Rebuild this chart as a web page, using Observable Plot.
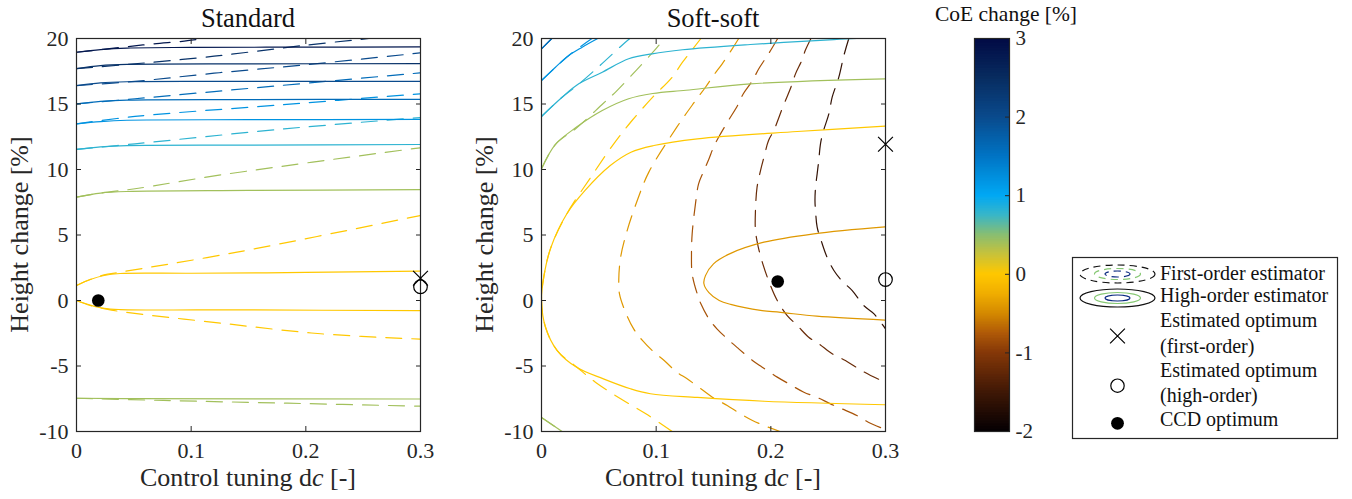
<!DOCTYPE html>
<html><head><meta charset="utf-8">
<script src="https://cdn.jsdelivr.net/npm/d3@7"></script>
<script src="https://cdn.jsdelivr.net/npm/@observablehq/plot@0.6"></script>
<style>
body{margin:0;background:#fff;}
#root{position:relative;width:1352px;height:499px;overflow:hidden;background:#fff;font-family:"Liberation Serif","DejaVu Serif",serif;}
#root > svg{position:absolute;overflow:visible;}
#root svg text{font-family:"Liberation Serif","DejaVu Serif",serif !important;}
</style></head><body><div id="root"></div>
<script>
// ---------- scales / ticks ----------
const cmapStops  = [-2, -1.5, -1, -0.75, -0.5, -0.25, 0, 0.25, 0.5, 0.75, 1, 1.5, 2, 2.5, 3];
const cmapColors = ["#050003","#401806","#853808","#b05a08","#d48a00","#f0ae00","#ffc800","#c8c23a","#88be72","#38b6c8","#00a8f4","#0074c4","#0a4a8c","#082c60","#020a44"];
const xTicks  = [0, 0.1, 0.2, 0.3];
const yTicks  = [-10, -5, 0, 5, 10, 15, 20];
const cbTicks = [-2, -1, 0, 1, 2, 3];
const panelTitles = ["Standard", "Soft-soft"];
const cbTitle = "CoE change [%]";
const legendLabels = ["First-order estimator","High-order estimator","Estimated optimum","(first-order)","Estimated optimum","(high-order)","CCD optimum"];

// ---------- Standard: high-order estimator (solid) ----------
const stdHiLevels = [2.8, 2.4, 2.0, 1.6, 1.2, 0.8, 0.4, 0, 0, 0.4];
const stdHi_2p8 = [[0,18.95],[0.021,19.15],[0.044,19.27],[0.1,19.32],[0.2,19.34],[0.3,19.36]];
const stdHi_2p4 = [[0,17.7],[0.021,17.93],[0.044,18.02],[0.15,18.06],[0.3,18.08]];
const stdHi_2p0 = [[0,16.41],[0.021,16.62],[0.044,16.7],[0.15,16.72],[0.3,16.73]];
const stdHi_1p6 = [[0,15.01],[0.021,15.2],[0.044,15.3],[0.15,15.34],[0.3,15.35]];
const stdHi_1p2 = [[0,13.49],[0.021,13.66],[0.044,13.76],[0.15,13.8],[0.3,13.82]];
const stdHi_0p8 = [[0,11.53],[0.021,11.72],[0.044,11.82],[0.15,11.86],[0.3,11.91]];
const stdHi_0p4a = [[0,7.89],[0.021,8.2],[0.044,8.32],[0.15,8.4],[0.3,8.47]];
const stdHi_0a = [[0,1.15],[0.012,1.6],[0.024,1.91],[0.038,2.06],[0.1,2.08],[0.2,2.14],[0.3,2.24]];
const stdHi_0b = [[0,0],[0.012,-0.35],[0.024,-0.6],[0.038,-0.69],[0.15,-0.72],[0.3,-0.78]];
const stdHi_0p4b = [[0,-7.46],[0.05,-7.49],[0.3,-7.52]];
const stdHiLines = [stdHi_2p8, stdHi_2p4, stdHi_2p0, stdHi_1p6, stdHi_1p2, stdHi_0p8, stdHi_0p4a, stdHi_0a, stdHi_0b, stdHi_0p4b];

// ---------- Standard: first-order estimator (dashed) ----------
const stdLoLevels = [2.8, 2.4, 2.0, 1.6, 1.2, 0.8, 0.4, 0, 0, 0.4];
const stdLo_2p8 = [[0,18.95],[0.041,19.34],[0.067,19.59],[0.094,19.8],[0.112,20]];
const stdLo_2p4 = [[0,17.7],[0.041,17.99],[0.12,18.65],[0.198,19.47],[0.255,20]];
const stdLo_2p0 = [[0,16.41],[0.051,16.73],[0.12,17.35],[0.198,17.98],[0.3,18.9]];
const stdLo_1p6 = [[0,15.01],[0.051,15.4],[0.12,15.95],[0.3,17.38]];
const stdLo_1p2 = [[0,13.49],[0.051,14.05],[0.18,14.95],[0.3,15.78]];
const stdLo_0p8 = [[0,11.53],[0.051,11.96],[0.181,13.1],[0.3,13.97]];
const stdLo_0p4a = [[0,7.89],[0.021,8.2],[0.051,8.53],[0.1285,9.62],[0.3,11.66]];
const stdLo_0a = [[0,1.15],[0.012,1.6],[0.024,1.95],[0.038,2.16],[0.14,3.69],[0.3,6.49]];
const stdLo_0b = [[0,0],[0.012,-0.38],[0.024,-0.62],[0.038,-0.84],[0.126,-1.73],[0.213,-2.54],[0.3,-2.95]];
const stdLo_0p4b = [[0,-7.46],[0.076,-7.63],[0.184,-7.84],[0.3,-8.07]];
const stdLoLines = [stdLo_2p8, stdLo_2p4, stdLo_2p0, stdLo_1p6, stdLo_1p2, stdLo_0p8, stdLo_0p4a, stdLo_0a, stdLo_0b, stdLo_0p4b];

// ---------- Standard: optima ----------
const stdEstFirst = [[0.3, 1.7]];
const stdEstHigh  = [[0.3, 1.05]];
const stdCCD      = [[0.019, 0.0]];

// ---------- Soft-soft: high-order estimator (solid) ----------
const softHiLevels = [1.6, 1.2, 0.8, 0.4, 0, -0.4, 0.4];
const softHi_1p6 = [[0,19.21],[0.009,20]];
const softHi_1p2 = [[0,16.79],[0.0122,17.81],[0.0238,18.7],[0.0355,19.34],[0.049,20]];
const softHi_0p8 = [[0,14.05],[0.018,15.52],[0.0325,16.54],[0.053,17.43],[0.076,18.45],[0.0965,18.83],[0.123,19.14],[0.182,19.54],[0.255,19.92],[0.275,20]];
const softHi_0p4 = [[0,10.05],[0.012,11.9],[0.03,13.2],[0.053,14.5],[0.076,15.4],[0.097,15.8],[0.126,16.05],[0.182,16.54],[0.3,16.92]];
const softHi_0 = [[0.3,13.31],[0.223,12.9],[0.136,12.34],[0.098,11.83],[0.078,11.32],[0.06,10.3],[0.038,8.4],[0.022,6.6],[0.008,4.0],[0.002,1.8],[0,0],[0.0035,-2.04],[0.0137,-3.82],[0.031,-5.12],[0.054,-5.98],[0.0776,-6.74],[0.095,-7.12],[0.136,-7.4],[0.194,-7.69],[0.3,-7.96]];
const softHi_m0p4 = [[0.3,5.62],[0.2375,5.09],[0.194,4.45],[0.165,3.6],[0.15,2.8],[0.143,1.9],[0.1416,1.3],[0.146,0.6],[0.155,0.0],[0.165,-0.3],[0.191,-0.76],[0.2085,-0.9],[0.24,-1.2],[0.3,-1.5]];
const softHi_0p4b = [[0,-8.93],[0.018,-10]];
const softHiLines = [softHi_1p6, softHi_1p2, softHi_0p8, softHi_0p4, softHi_0, softHi_m0p4, softHi_0p4b];

// ---------- Soft-soft: first-order estimator (dashed) ----------
const softLoLevels = [1.6, 1.2, 0.8, 0.4, 0, -0.4, -0.8, -1.2, -1.6, 0.4];
const softLo_1p6 = [[0,19.21],[0.009,20]];
const softLo_1p2 = [[0,16.79],[0.0238,18.7],[0.044,20]];
const softLo_0p8 = [[0,14.05],[0.018,15.52],[0.031,16.41],[0.051,17.94],[0.07,19.47],[0.077,20]];
const softLo_0p4 = [[0,10.05],[0.012,11.9],[0.031,13.2],[0.054,15.06],[0.065,15.95],[0.083,17.61],[0.101,19.34],[0.107,20]];
const softLo_0 = [[0.114,-10],[0.091,-8.65],[0.069,-7.5],[0.047,-6.24],[0.031,-5.1],[0.0137,-3.82],[0.0035,-2.04],[0,0],[0.002,1.8],[0.008,4.0],[0.022,6.6],[0.043,9.41],[0.063,11.96],[0.079,13.74],[0.097,15.52],[0.114,17.05],[0.123,18.19],[0.139,20]];
const softLo_m0p4 = [[0.172,20],[0.1663,19.21],[0.1576,18.07],[0.15,17.18],[0.143,16.28],[0.133,15.1],[0.118,13.23],[0.0936,9.8],[0.0835,7.63],[0.0747,5.34],[0.069,3.3],[0.0674,1.6],[0.068,0.5],[0.0733,-0.9],[0.0805,-2.19],[0.088,-3.05],[0.098,-3.94],[0.107,-4.58],[0.118,-5.47],[0.127,-5.98],[0.139,-6.74],[0.149,-7.38],[0.162,-8.02],[0.171,-8.52],[0.184,-9.16],[0.194,-9.54],[0.208,-10]];
const softLo_m0p8 = [[0.206,20],[0.198,18.83],[0.1895,17.69],[0.184,16.79],[0.176,15.78],[0.171,14.89],[0.163,13.74],[0.156,12.7],[0.15,11.7],[0.146,10.8],[0.1416,9.9],[0.137,8.9],[0.1343,7.4],[0.1314,5.09],[0.1308,3.5],[0.1314,2.03],[0.1358,0.51],[0.139,-0.25],[0.146,-1.4],[0.153,-2.16],[0.163,-3.0],[0.172,-3.69],[0.184,-4.58],[0.1925,-5.09],[0.2056,-5.85],[0.2157,-6.36],[0.2288,-7.0],[0.24,-7.38],[0.252,-7.89],[0.262,-8.27],[0.275,-8.78],[0.285,-9.29],[0.2985,-9.8]];
const softLo_m1p2 = [[0.235,20],[0.23,19.08],[0.227,18.32],[0.2215,17.3],[0.217,16.16],[0.211,14.89],[0.2026,12.98],[0.198,12.21],[0.194,10.94],[0.191,9.92],[0.188,8.65],[0.1866,6.87],[0.1866,5.34],[0.189,4.1],[0.193,2.8],[0.199,1.3],[0.2056,0],[0.2143,-1.15],[0.223,-1.9],[0.233,-2.8],[0.242,-3.31],[0.2535,-4.07],[0.265,-4.58],[0.2767,-5.22],[0.287,-5.73],[0.3,-6.23]];
const softLo_m1p6 = [[0.268,20],[0.2637,18.7],[0.2593,17.05],[0.2535,15.52],[0.2506,14.25],[0.246,12.98],[0.2433,11.96],[0.2418,10.69],[0.2404,9.67],[0.239,8.65],[0.2385,7.6],[0.239,6.87],[0.2404,5.6],[0.2448,4.33],[0.249,3.31],[0.255,2.29],[0.262,1.5],[0.271,0.76],[0.281,-0.38],[0.29,-1.02],[0.3,-2.16]];
const softLo_0p4b = [[0,-8.93],[0.018,-10]];
const softLoLines = [softLo_1p6, softLo_1p2, softLo_0p8, softLo_0p4, softLo_0, softLo_m0p4, softLo_m0p8, softLo_m1p2, softLo_m1p6, softLo_0p4b];

// ---------- Soft-soft: optima ----------
const softEstFirst = [[0.3, 11.93]];
const softEstHigh  = [[0.3, 1.6]];
const softCCD      = [[0.206, 1.45]];

// ---------- helpers ----------
const FONT = '"Liberation Serif","DejaVu Serif",serif';
const INK = "#262626";
const colorOpts = {type: "linear", domain: cmapStops, range: cmapColors};
function toRows(lines, levels) {
  return lines.flatMap((pts, i) => pts.map(([x, y]) => ({x, y, level: levels[i], id: i})));
}
const root = document.getElementById("root");
function serifize(svg) {
  d3.select(svg).selectAll("text").style("font-family", FONT);
  d3.select(svg).style("font-family", FONT);
}

function makePanel(title, hiLines, hiLevels, loLines, loLevels, estFirst, estHigh, ccd, left) {
  const W = 450, H = 499, mL = 76, mR = 30, mT = 38, mB = 68;
  const svg = Plot.plot({
    width: W, height: H, marginLeft: mL, marginRight: mR, marginTop: mT, marginBottom: mB,
    x: {domain: [0, 0.3]},
    y: {domain: [-10, 20]},
    color: colorOpts,
    style: {fontFamily: FONT, fontSize: "22px", color: INK, background: "transparent", overflow: "visible"},
    marks: [
      Plot.line(toRows(loLines, loLevels), {x: "x", y: "y", z: "id", stroke: "level", strokeWidth: 1.2, strokeDasharray: "16,10", curve: "catmull-rom", clip: true}),
      Plot.line(toRows(hiLines, hiLevels), {x: "x", y: "y", z: "id", stroke: "level", strokeWidth: 1.2, curve: "catmull-rom", clip: true}),
      Plot.frame({stroke: INK, strokeWidth: 1.2}),
      Plot.axisX({anchor: "bottom", ticks: xTicks, tickSize: 0, tickPadding: 11, tickFormat: d => String(d), label: null, fontSize: 22, fill: INK}),
      Plot.axisX({anchor: "bottom", ticks: xTicks, tickSize: 5, dy: -5, tickFormat: () => "", label: null, stroke: INK}),
      Plot.axisX({anchor: "top", ticks: xTicks, tickSize: 5, dy: 5, tickFormat: () => "", label: null, stroke: INK}),
      Plot.axisY({anchor: "left", ticks: yTicks, tickSize: 0, tickPadding: 8, tickFormat: d => String(d), label: null, fontSize: 22, fill: INK}),
      Plot.axisY({anchor: "left", ticks: yTicks, tickSize: 5, dx: 5, tickFormat: () => "", label: null, stroke: INK}),
      Plot.axisY({anchor: "right", ticks: yTicks, tickSize: 5, dx: -5, tickFormat: () => "", label: null, stroke: INK}),
      Plot.dot(ccd, {x: d => d[0], y: d => d[1], r: 6.3, fill: "black", stroke: "none"}),
      Plot.dot(estHigh, {x: d => d[0], y: d => d[1], r: 6.8, fill: "none", stroke: "black", strokeWidth: 1.2}),
      Plot.dot(estFirst, {x: d => d[0], y: d => d[1], r: 6.8, symbol: "times", fill: "none", stroke: "black", strokeWidth: 1.2})
    ]
  });
  svg.style.left = left + "px";
  svg.style.top = "0px";
  const s = d3.select(svg);
  const cx = mL + (W - mL - mR) / 2;
  s.append("text").attr("x", cx).attr("y", 27).attr("text-anchor", "middle")
    .attr("font-size", 26.5).attr("fill", "#111").text(title);
  const xl = s.append("text").attr("x", cx).attr("y", 486).attr("text-anchor", "middle")
    .attr("font-size", 26).attr("fill", INK);
  xl.append("tspan").text("Control tuning d");
  xl.append("tspan").attr("font-style", "italic").text("c");
  xl.append("tspan").text(" [-]");
  s.append("text").attr("transform", `translate(28,${mT + (H - mT - mB) / 2}) rotate(-90)`)
    .attr("text-anchor", "middle").attr("font-size", 26).attr("fill", INK)
    .text("Height change [%]");
  serifize(svg);
  root.appendChild(svg);
}

makePanel(panelTitles[0], stdHiLines, stdHiLevels, stdLoLines, stdLoLevels, stdEstFirst, stdEstHigh, stdCCD, 0);
makePanel(panelTitles[1], softHiLines, softHiLevels, softLoLines, softLoLevels, softEstFirst, softEstHigh, softCCD, 465);

// ---------- colorbar ----------
const rampStep = 0.02;
const ramp = d3.range(cmapStops[0], cmapStops[cmapStops.length - 1], rampStep);
{
  const W = 139, H = 499, mL = 54, mR = 50, mT = 38, mB = 68;
  const svg = Plot.plot({
    width: W, height: H, marginLeft: mL, marginRight: mR, marginTop: mT, marginBottom: mB,
    x: {domain: [0, 1], axis: null},
    y: {domain: [cmapStops[0], cmapStops[cmapStops.length - 1]]},
    color: colorOpts,
    style: {fontFamily: FONT, fontSize: "21px", color: INK, background: "transparent", overflow: "visible"},
    marks: [
      Plot.rect(ramp, {x1: 0, x2: 1, y1: d => d, y2: d => Math.min(3, d + rampStep * 1.6), fill: d => d + rampStep / 2}),
      Plot.frame({stroke: INK, strokeWidth: 1.2}),
      Plot.axisY({anchor: "right", ticks: cbTicks, tickSize: 0, tickPadding: 6, tickFormat: d => String(d), label: null, fontSize: 21, fill: INK}),
      Plot.axisY({anchor: "right", ticks: cbTicks, tickSize: 5, dx: -5, tickFormat: () => "", label: null, stroke: INK})
    ]
  });
  svg.style.left = "920px";
  svg.style.top = "0px";
  d3.select(svg).append("text").attr("x", 86).attr("y", 21).attr("text-anchor", "middle")
    .attr("font-size", 21.5).attr("fill", "#111").text(cbTitle);
  serifize(svg);
  root.appendChild(svg);
}

// ---------- legend ----------
{
  const svg = d3.select(root).append("svg")
    .attr("width", 268).attr("height", 183)
    .style("left", "1072px").style("top", "257px");
  svg.append("rect").attr("x", 0.5).attr("y", 0.5).attr("width", 265).attr("height", 181)
    .attr("fill", "white").attr("stroke", INK).attr("stroke-width", 1.2);
  const ix = 45.5;
  const rings = [[37.5, 9, "#111"], [23, 5.5, "#86c873"], [12.5, 3, "#0a2a80"]];
  [[17, "7,5"], [41, null]].forEach(([cy, dash]) => {
    rings.forEach(([rx, ry, c]) => {
      const e = svg.append("ellipse").attr("cx", ix).attr("cy", cy).attr("rx", rx).attr("ry", ry)
        .attr("fill", "none").attr("stroke", c).attr("stroke-width", 1.2);
      if (dash) e.attr("stroke-dasharray", dash);
    });
  });
  svg.append("path").attr("d", d3.symbol(d3.symbolTimes, Math.PI * 6.8 * 6.8)())
    .attr("transform", `translate(${ix},79)`).attr("fill", "none").attr("stroke", "black").attr("stroke-width", 1.2);
  svg.append("circle").attr("cx", ix).attr("cy", 128.7).attr("r", 6.7).attr("fill", "none").attr("stroke", "black").attr("stroke-width", 1.2);
  svg.append("circle").attr("cx", ix).attr("cy", 166.3).attr("r", 6.4).attr("fill", "black");
  const ys = [23, 45, 70, 96, 120, 145, 169];
  legendLabels.forEach((t, i) => {
    svg.append("text").attr("x", 88).attr("y", ys[i]).style("font-family", FONT)
      .attr("font-size", 20).attr("fill", "#111").text(t);
  });
}
</script></body></html>
